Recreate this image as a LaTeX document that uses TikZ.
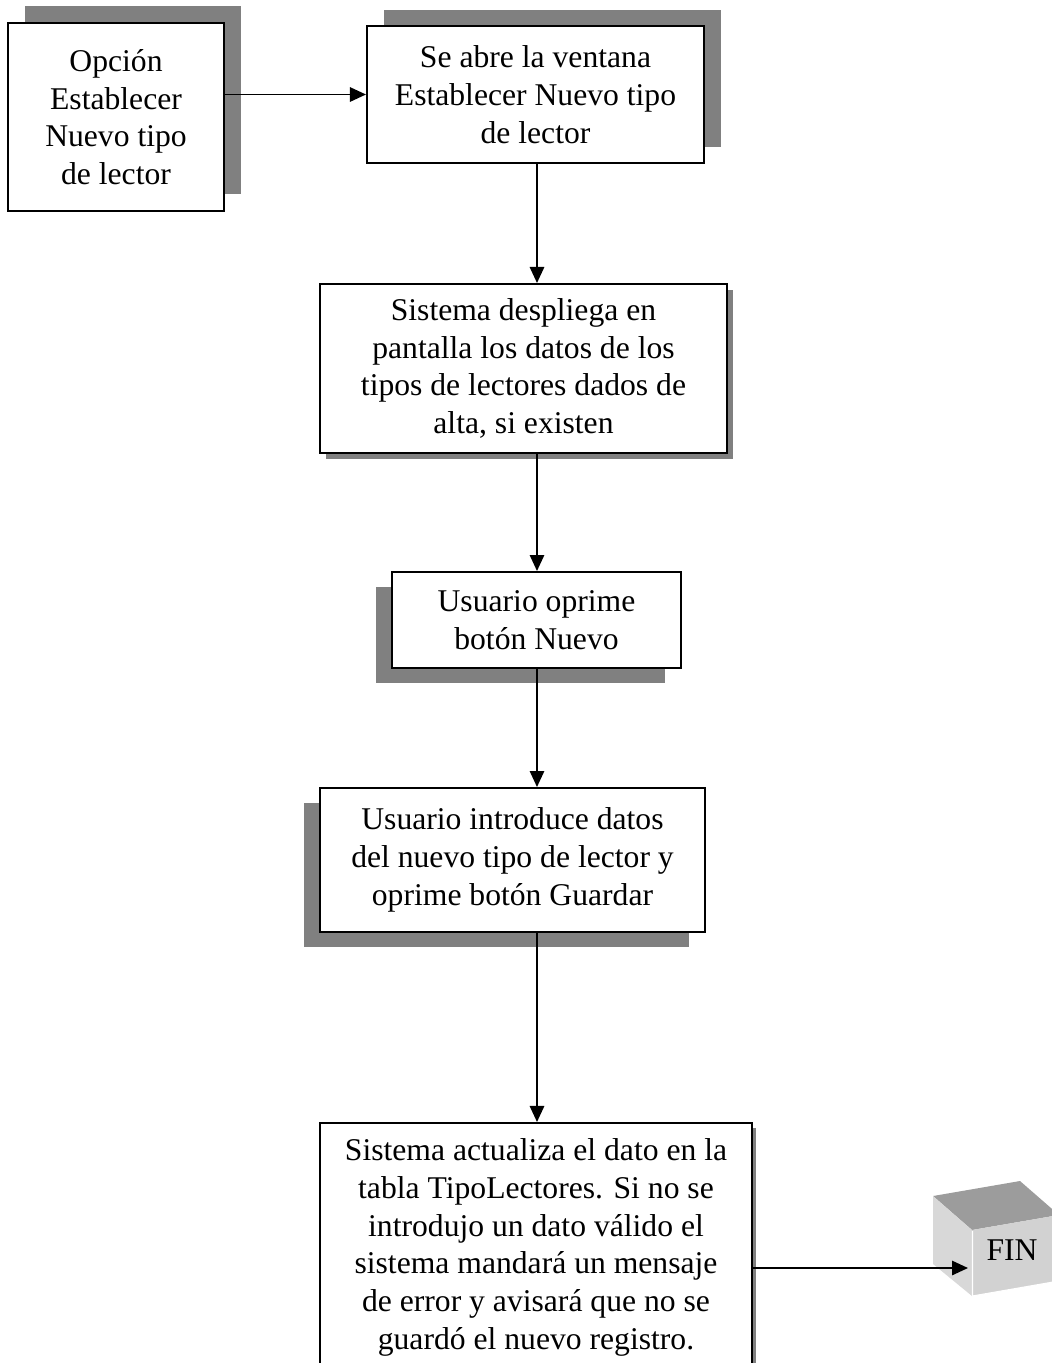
\documentclass[tikz,border=0pt]{standalone}
\usepackage{fontspec}
\setmainfont{Liberation Serif}
\usetikzlibrary{arrows.meta,shadows}
\definecolor{shadowgray}{HTML}{808080}
\definecolor{cubetop}{HTML}{9C9C9C}
\definecolor{cubeleft}{HTML}{D8D8D8}
\definecolor{cubefront}{HTML}{D2D2D2}
\begin{document}
\begin{tikzpicture}[x=0.025cm,y=-0.025cm]
		\tikzstyle{every node}=[font=\fontsize{22.5pt}{26.8pt}\selectfont]
		\tikzstyle{paso}=[draw, line width=1.4pt, fill=white, inner sep=0pt, align=center]
		\tikzstyle{flecha}=[line width=1.2pt, -{Triangle[length=0.4cm, width=0.36cm]}]
		
		\useasboundingbox (0,0) rectangle (1052,1363);
		
		\node[paso, minimum width=5.4cm, minimum height=4.7cm, drop shadow={shadow xshift=0.425cm, shadow yshift=0.425cm, opacity=1, fill=shadowgray}] (opcion) at (116,117) {Opción\\Establecer\\Nuevo tipo\\de lector};
		\node[paso, minimum width=8.425cm, minimum height=3.425cm, drop shadow={shadow xshift=0.425cm, shadow yshift=0.4cm, opacity=1, fill=shadowgray}] (ventana) at (535.5,94.5) {Se abre la ventana\\Establecer Nuevo tipo\\de lector};
		\node[paso, minimum width=10.175cm, minimum height=4.225cm, drop shadow={shadow xshift=0.15cm, shadow yshift=-0.14cm, opacity=1, fill=shadowgray}] (despliega) at (523.5,368.5) {Sistema despliega en\\pantalla los datos de los\\tipos de lectores dados de\\alta, si existen};
		\node[paso, minimum width=7.225cm, minimum height=2.4cm, drop shadow={shadow xshift=-0.4cm, shadow yshift=-0.375cm, opacity=1, fill=shadowgray}] (nuevo) at (536.5,620) {Usuario oprime\\botón Nuevo};
		\node[paso, minimum width=9.625cm, minimum height=3.6cm, drop shadow={shadow xshift=-0.4cm, shadow yshift=-0.375cm, opacity=1, fill=shadowgray}] (guardar) at (512.5,860) {Usuario introduce datos\\del nuevo tipo de lector y\\oprime botón Guardar};
		\node[paso, minimum width=10.8cm, minimum height=6.225cm, drop shadow={shadow xshift=0.1cm, shadow yshift=-0.125cm, opacity=1, fill=shadowgray}] (actualiza) at (536,1247.5) {Sistema actualiza el dato en la\\tabla TipoLectores. Si no se\\introdujo un dato válido el\\sistema mandará un mensaje\\de error y avisará que no se\\guardó el nuevo registro.};
		
		% cubo FIN
		\fill[cubetop] (933,1196) -- (1020,1181) -- (1059,1215) -- (972,1230) -- cycle;
		\fill[cubeleft] (933,1196) -- (972,1230) -- (972,1296) -- (933,1264) -- cycle;
		\fill[cubefront] (972,1230) -- (1059,1215) -- (1059,1281) -- (972,1296) -- cycle;
		\draw[white, line width=0.8pt] (972.5,1231) -- (972.5,1296) -- (1059,1281);
		\node (fin) at (1012,1250) {FIN};
		\coordinate (finin) at (968,1268);
		
		\coordinate (col) at (537,0);
		\draw[flecha] (opcion.east |- ventana.west) -- (ventana.west);
		\draw[flecha] (ventana.south -| col) -- (despliega.north -| col);
		\draw[flecha] (despliega.south -| col) -- (nuevo.north -| col);
		\draw[flecha] (nuevo.south -| col) -- (guardar.north -| col);
		\draw[flecha] (guardar.south -| col) -- (actualiza.north -| col);
		\draw[flecha] (actualiza.east |- finin) -- (finin);
		
	\end{tikzpicture}
\end{document}
